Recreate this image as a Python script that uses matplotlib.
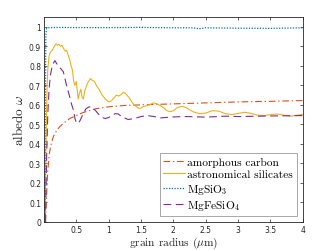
import matplotlib
matplotlib.use('Agg')
import matplotlib.pyplot as plt

# grain radius (um) vs albedo
carbon_x = [0.025, 0.03, 0.04, 0.05, 0.06, 0.07, 0.08, 0.1, 0.12, 0.15, 0.2, 0.25, 0.3, 0.4,
            0.5, 0.6, 0.8, 1.0, 1.25, 1.5, 2.0, 2.5, 3.0, 3.5, 4.0]
carbon_y = [0.0, 0.05, 0.12, 0.2, 0.26, 0.3, 0.34, 0.38, 0.41, 0.44, 0.47, 0.49, 0.505, 0.53,
            0.545, 0.56, 0.58, 0.59, 0.597, 0.6, 0.605, 0.61, 0.615, 0.618, 0.622]

sil_x = [0.02, 0.03, 0.04, 0.05, 0.06, 0.08, 0.1, 0.13, 0.16, 0.19, 0.21, 0.23, 0.26, 0.28,
         0.31, 0.33, 0.35, 0.38, 0.40, 0.42, 0.44, 0.46, 0.48, 0.50, 0.52, 0.53, 0.55, 0.57,
         0.59, 0.61, 0.63, 0.66, 0.69, 0.72, 0.75, 0.78, 0.81, 0.85, 0.9, 0.95, 1.0, 1.04,
         1.08, 1.12, 1.16, 1.2, 1.23, 1.27, 1.32, 1.38, 1.43, 1.48, 1.53, 1.58, 1.63, 1.69,
         1.75, 1.8, 1.85, 1.9, 1.95, 2.0, 2.05, 2.1, 2.15, 2.2, 2.3, 2.4, 2.5, 2.6, 2.7, 2.8,
         2.9, 3.0, 3.1, 3.2, 3.3, 3.4, 3.5, 3.6, 3.7, 3.8, 3.9, 4.0]
sil_y = [0.0, 0.3, 0.55, 0.70, 0.78, 0.85, 0.87, 0.88, 0.9, 0.913, 0.905, 0.91, 0.9, 0.905,
         0.885, 0.875, 0.88, 0.85, 0.83, 0.80, 0.78, 0.72, 0.70, 0.72, 0.66, 0.63, 0.66, 0.68,
         0.64, 0.63, 0.67, 0.70, 0.72, 0.735, 0.725, 0.72, 0.70, 0.68, 0.65, 0.63, 0.615, 0.62,
         0.635, 0.65, 0.645, 0.655, 0.665, 0.655, 0.635, 0.605, 0.59, 0.58, 0.59, 0.595, 0.6, 0.61,
         0.605, 0.595, 0.585, 0.57, 0.565, 0.57, 0.583, 0.59, 0.592, 0.585, 0.565, 0.555, 0.558, 0.57, 0.568, 0.555,
         0.55, 0.556, 0.562, 0.556, 0.547, 0.545, 0.55, 0.553, 0.548, 0.542, 0.546, 0.552]

mgsio3_x = [0.015, 0.02, 0.03, 0.04, 0.06, 0.1, 0.3, 0.5, 1.0, 1.5, 2.0, 2.3, 2.4, 2.5, 3.0, 3.5, 4.0]
mgsio3_y = [0.0, 0.5, 0.95, 0.99, 0.995, 0.996, 0.997, 0.996, 0.996, 0.997, 0.995, 0.995, 0.99,
            0.995, 0.993, 0.992, 0.995]

mgfe_x = [0.025, 0.04, 0.06, 0.08, 0.1, 0.12, 0.15, 0.17, 0.2, 0.25, 0.3, 0.35, 0.4, 0.43, 0.46,
          0.48, 0.5, 0.53, 0.56, 0.6, 0.65, 0.7, 0.75, 0.8, 0.85, 0.9, 0.95, 1.0, 1.05, 1.1,
          1.15, 1.2, 1.3, 1.4, 1.5, 1.6, 1.7, 1.8, 2.0, 2.2, 2.5, 2.8, 3.0, 3.5, 4.0]
mgfe_y = [0.0, 0.3, 0.55, 0.68, 0.75, 0.785, 0.815, 0.827, 0.81, 0.79, 0.77, 0.70, 0.64, 0.60, 0.57,
          0.53, 0.51, 0.505, 0.52, 0.55, 0.58, 0.59, 0.585, 0.57, 0.55, 0.535, 0.53, 0.535, 0.545, 0.555,
          0.553, 0.54, 0.525, 0.53, 0.54, 0.545, 0.54, 0.533, 0.538, 0.54, 0.537, 0.542, 0.54, 0.543, 0.545]

xticks = [0.5, 1, 1.5, 2, 2.5, 3, 3.5, 4]
xticklabels = ['0.5', '1', '1.5', '2', '2.5', '3', '3.5', '4']
yticks = [0, 0.1, 0.2, 0.3, 0.4, 0.5, 0.6, 0.7, 0.8, 0.9, 1]
yticklabels = ['0', '0.1', '0.2', '0.3', '0.4', '0.5', '0.6', '0.7', '0.8', '0.9', '1']

plt.rcParams['mathtext.fontset'] = 'cm'
serif = 'cmr10'
axc = '#262626'

fig = plt.figure(figsize=(3.35, 2.51), dpi=100)
ax = fig.add_axes([0.131, 0.112, 0.773, 0.816])

ax.plot(carbon_x, carbon_y, color='#D95319', lw=0.8, ls=(0, (6, 2.5, 1.2, 2.5)),
        label='amorphous carbon')
ax.plot(sil_x, sil_y, color='#EDB120', lw=0.8, ls='-', label='astronomical silicates')
ax.plot(mgsio3_x, mgsio3_y, color='#0072BD', lw=0.9, ls=(0, (1, 1.2)), label='MgSiO$_3$')
ax.plot(mgfe_x, mgfe_y, color='#7E2F8E', lw=0.8, ls=(0, (7, 4)), label='MgFeSiO$_4$')

ax.set_xlim(0, 4)
ax.set_ylim(0, 1.05)
ax.set_xticks(xticks)
ax.set_xticklabels(xticklabels)
ax.set_yticks(yticks)
ax.set_yticklabels(yticklabels)
ax.tick_params(direction='in', top=True, right=True, length=2.5, width=0.5,
               labelsize=5.5, colors=axc, pad=2)
for s in ax.spines.values():
    s.set_linewidth(0.6)
    s.set_color(axc)

ax.set_xlabel(r'grain radius ($\mu$m)', fontfamily=serif, fontsize=8.2, color=axc, labelpad=1)
ax.set_ylabel(r'albedo $\omega$', fontfamily=serif, fontsize=9.5, color=axc, labelpad=2)

leg = ax.legend(loc='lower right', prop={'family': serif, 'size': 8.2}, frameon=True,
                fancybox=False, borderpad=0.3, labelspacing=0.22, handlelength=1.9,
                handletextpad=0.2, borderaxespad=0.55)
leg.get_frame().set_edgecolor('#808080')
leg.get_frame().set_linewidth(0.6)

fig.savefig('out.png', dpi=100)
